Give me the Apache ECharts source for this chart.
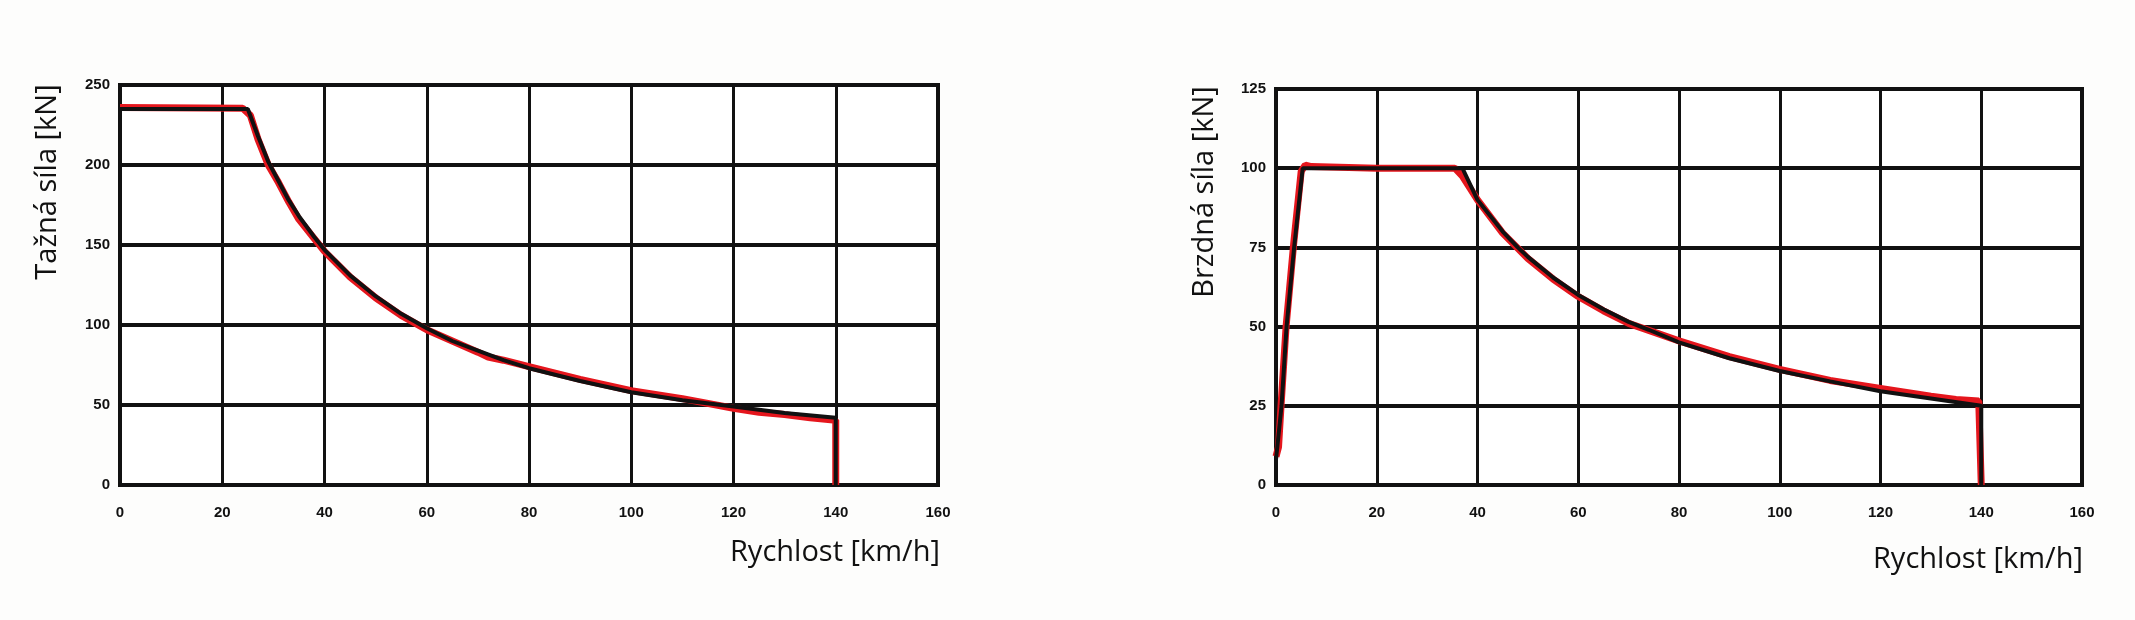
<!DOCTYPE html>
<html>
<head>
<meta charset="utf-8">
<script src="https://cdn.jsdelivr.net/npm/echarts@6/dist/echarts.min.js"></script>
<style>
  html, body { margin: 0; padding: 0; background: #fdfdfc; }
  #chart { width: 2135px; height: 620px; }
</style>
</head>
<body>
<div id="chart"></div>
<script>
// tick labels
var speedTicks = [0, 20, 40, 60, 80, 100, 120, 140, 160];
var tahTicks = [0, 50, 100, 150, 200, 250];
var brzdTicks = [0, 25, 50, 75, 100, 125];

// Tazna sila - black (vypocet)
var tahSpeedBlack = [0, 25, 27, 29, 31, 33, 35, 38, 40, 45, 50, 55, 60, 65, 70, 75, 80, 90, 100, 110, 120, 130, 140, 140];
var tahForceBlack = [235, 235, 218, 202, 190, 178, 168, 155, 147, 131, 118, 107, 98, 90, 84, 78, 73, 65, 58, 53, 49, 45, 42, 0];
// Tazna sila - red (mereni)
var tahSpeedRed = [0, 24, 25.5, 27, 29, 31, 33, 35, 38, 40, 45, 50, 55, 60, 65, 70, 72, 75, 80, 90, 100, 110, 120, 125, 130, 135, 140, 140];
var tahForceRed = [236, 235.5, 231, 216, 200, 189, 177, 166, 154, 146, 130, 117, 106, 97, 90, 83, 80, 78, 74, 66, 59, 54, 48, 45.5, 44, 42, 40.5, 0];

// Brzdna sila - black
var brzdSpeedBlack = [0, 1.1, 2.1, 3.6, 5.3, 37, 40, 45, 48, 50, 55, 60, 65, 70, 74, 80, 90, 100, 110, 120, 130, 140, 140];
var brzdForceBlack = [8, 25, 50, 75, 100, 100, 90, 80, 75, 72, 65.5, 60, 55.5, 51.5, 49, 45, 40, 36, 32.7, 29.6, 27.3, 25, 0];
// Brzdna sila - red
var brzdSpeedRed = [0, 0.5, 1, 2, 3.5, 5, 5.8, 7, 20, 35.5, 37, 40, 45, 50, 55, 60, 65, 70, 80, 90, 100, 110, 120, 130, 135, 139.5, 140];
var brzdForceRed = [9, 12, 25, 50, 76, 99, 101, 100.5, 100, 100, 97.5, 90, 79.5, 71.5, 65, 59.5, 55, 51, 45.5, 40.5, 36.5, 33, 30.5, 28, 27, 26.5, 0];

var pairs = function(xs, ys){
  var out = [];
  for (var i = 0; i < xs.length; i++) out.push([xs[i], ys[i]]);
  return out;
};

var ink = '#111';
var red = '#e5161d';
var labelStyle = { color: ink, fontFamily: 'Liberation Sans', fontWeight: 'bold', fontSize: 15 };
var nameFont = '29px "Open Sans"';

var xAxisOf = function(gridIndex){
  return {
    type: 'value', gridIndex: gridIndex, min: 0, max: 160, interval: 20,
    axisLine: { show: true, lineStyle: { color: ink, width: 4 } },
    axisTick: { show: false },
    axisLabel: Object.assign({ margin: 20, customValues: speedTicks }, labelStyle),
    splitLine: { show: true, lineStyle: { color: ink, width: 3 } }
  };
};
var yAxisOf = function(gridIndex, max, interval, ticks){
  return {
    type: 'value', gridIndex: gridIndex, min: 0, max: max, interval: interval,
    axisLine: { show: true, lineStyle: { color: ink, width: 4 } },
    axisTick: { show: false },
    axisLabel: Object.assign({ margin: 10, customValues: ticks }, labelStyle),
    splitLine: { show: true, lineStyle: { color: ink, width: 4 } }
  };
};
var lineOf = function(name, xi, data, color, width, z){
  return {
    name: name, type: 'line', xAxisIndex: xi, yAxisIndex: xi,
    data: data, showSymbol: false, smooth: false, z: z,
    lineStyle: { color: color, width: width }
  };
};

var myChart = echarts.init(document.getElementById('chart'));
var option = {
  backgroundColor: '#fdfdfc',
  animation: false,
  grid: [
    { left: 120, top: 85, width: 818, height: 400, show: true, borderColor: ink, borderWidth: 4, backgroundColor: '#ffffff' },
    { left: 1276, top: 89, width: 806, height: 396, show: true, borderColor: ink, borderWidth: 4, backgroundColor: '#ffffff' }
  ],
  xAxis: [xAxisOf(0), xAxisOf(1)],
  yAxis: [yAxisOf(0, 250, 50, tahTicks), yAxisOf(1, 125, 25, brzdTicks)],
  series: [
    lineOf('Tažná síla - měření', 0, pairs(tahSpeedRed, tahForceRed), red, 7, 3),
    lineOf('Tažná síla', 0, pairs(tahSpeedBlack, tahForceBlack), ink, 4, 4),
    lineOf('Brzdná síla - měření', 1, pairs(brzdSpeedRed, brzdForceRed), red, 7, 3),
    lineOf('Brzdná síla', 1, pairs(brzdSpeedBlack, brzdForceBlack), ink, 4, 4)
  ],
  graphic: [
    { type: 'text', x: 48, y: 182, rotation: Math.PI / 2,
      style: { text: 'Tažná síla [kN]', font: nameFont, fill: ink, textAlign: 'center', textVerticalAlign: 'middle' } },
    { type: 'text', x: 940, y: 553,
      style: { text: 'Rychlost [km/h]', font: nameFont, fill: ink, textAlign: 'right', textVerticalAlign: 'middle' } },
    { type: 'text', x: 1205, y: 192, rotation: Math.PI / 2,
      style: { text: 'Brzdná síla [kN]', font: nameFont, fill: ink, textAlign: 'center', textVerticalAlign: 'middle' } },
    { type: 'text', x: 2083, y: 560,
      style: { text: 'Rychlost [km/h]', font: nameFont, fill: ink, textAlign: 'right', textVerticalAlign: 'middle' } }
  ]
};
myChart.setOption(option);
</script>
</body>
</html>
